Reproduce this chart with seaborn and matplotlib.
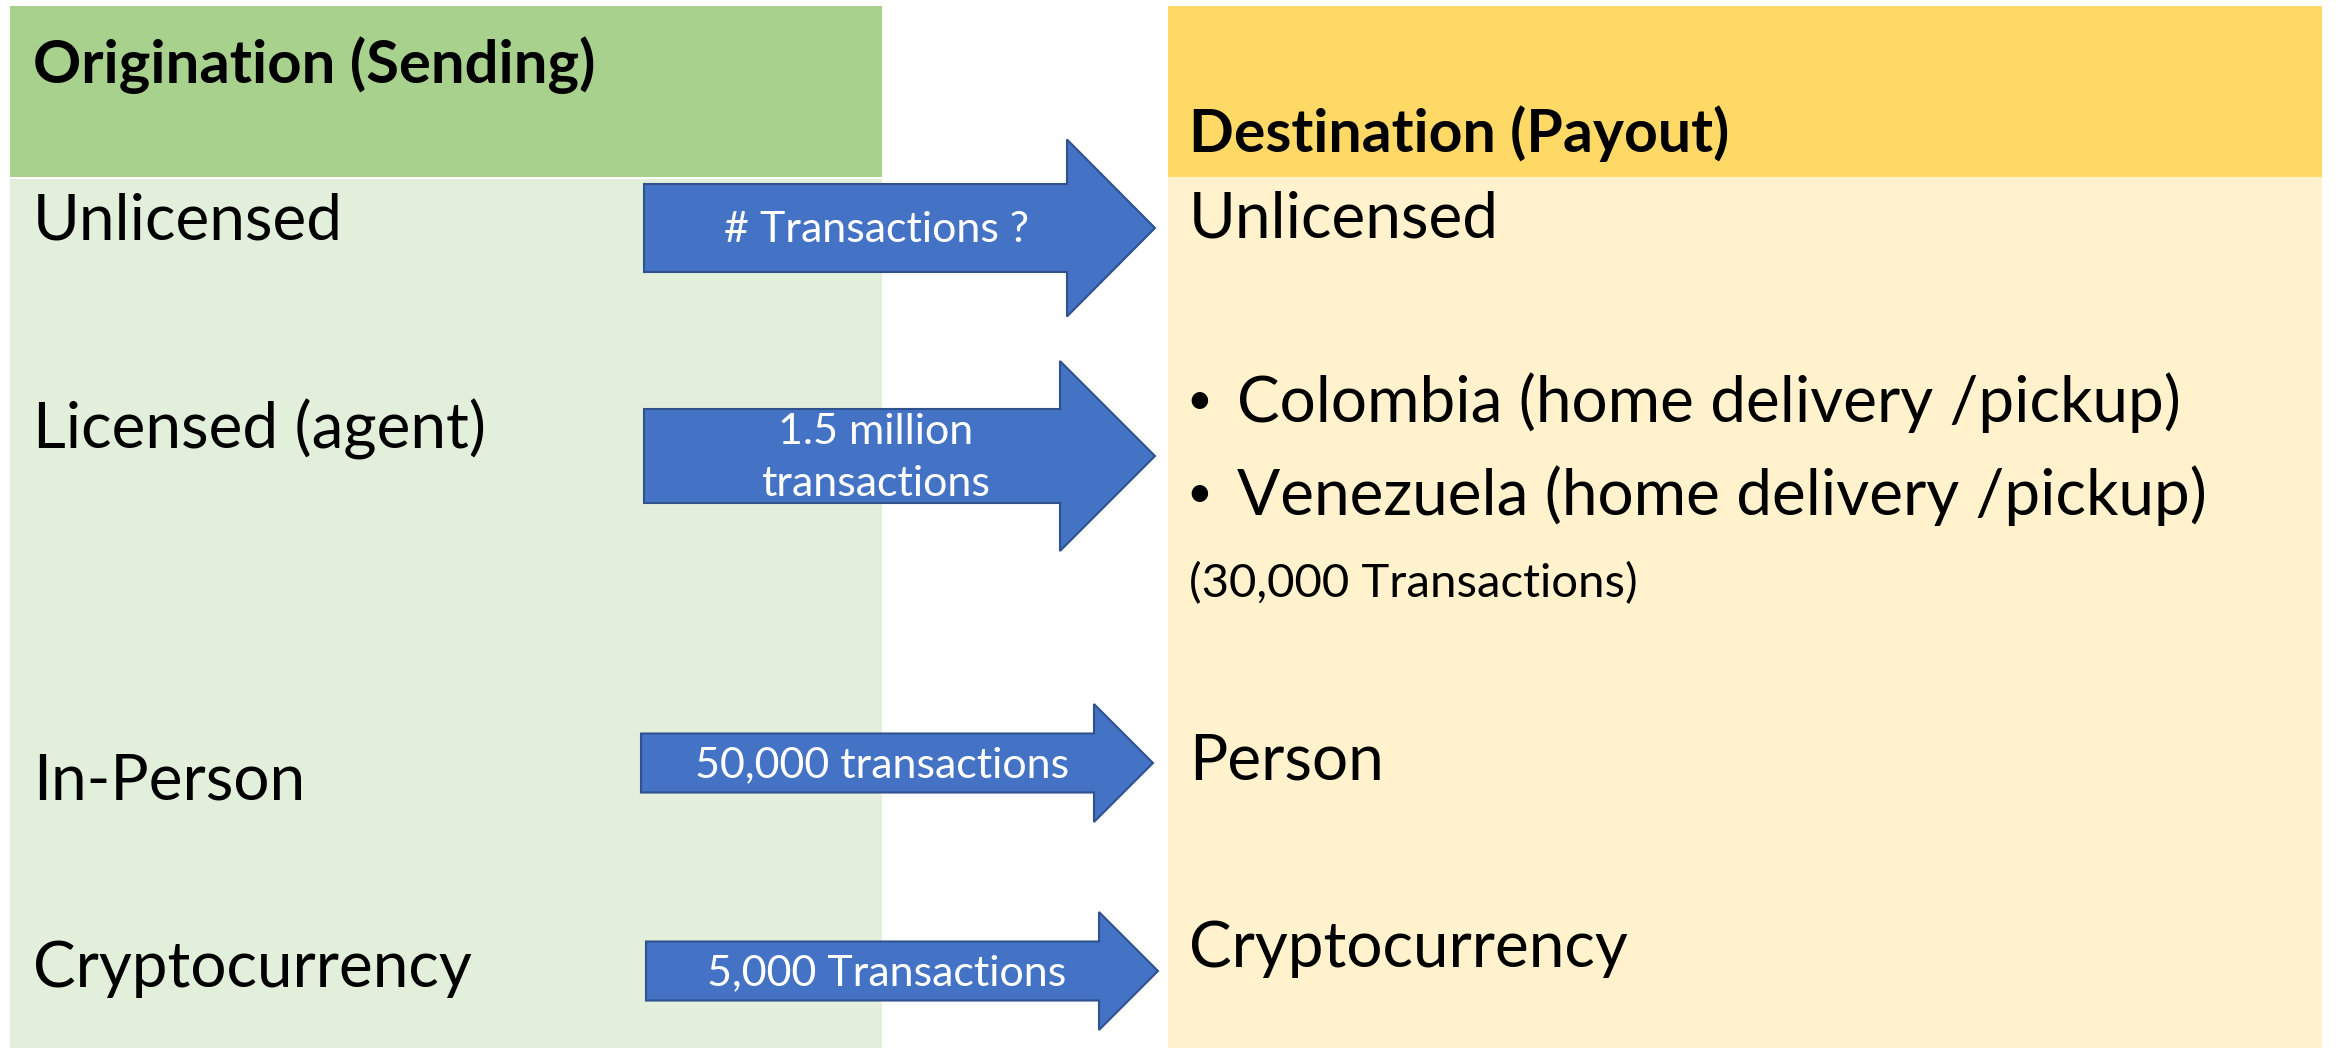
import numpy as np
import pandas as pd
import matplotlib.pyplot as plt
import seaborn as sns
from matplotlib.patches import Rectangle, FancyArrow

# ---- data ----
origin_title = "Origination (Sending)"
dest_title = "Destination (Payout)"
origin_labels = ["Unlicensed", "Licensed (agent)", "In-Person", "Cryptocurrency"]
dest_labels = ["Unlicensed",
               "Colombia (home delivery /pickup)",
               "Venezuela (home delivery /pickup)",
               "(30,000 Transactions)",
               "Person",
               "Cryptocurrency"]
dest_bullet = [False, True, True, False, False, False]
flow_labels = ["# Transactions ?", "1.5 million\ntransactions",
               "50,000 transactions", "5,000 Transactions"]

# ---- layout (pixel coords of a 2336x1048 canvas) ----
W, H = 2336, 1048
origin_base = [239, 448, 799, 987]
dest_base = [237, 422, 515, 597, 780, 967]
dest_size = [46, 46, 46, 34, 46, 46]
arrow_x = [644, 644, 641, 646]
arrow_len = [511, 511, 512, 512]
arrow_y = [228, 456, 763, 971]
arrow_w = [88, 94, 59, 59]
arrow_hw = [177, 190, 118, 118]
arrow_hl = [88, 95, 59, 59]
flow_text_x = [877, 876, 882, 887]
flow_text_y = [230, 458, 765, 973]

sns.set_style("white")
plt.rcParams['font.family'] = ['Lato', 'DejaVu Sans']

fig = plt.figure(figsize=(W / 100, H / 100), dpi=100)
ax = fig.add_axes([0, 0, 1, 1])
ax.set_xlim(0, W)
ax.set_ylim(H, 0)
ax.axis("off")

# column panels
ax.add_patch(Rectangle((10, 6), 872, 171, facecolor="#A9D18E", edgecolor="none"))
ax.add_patch(Rectangle((10, 179), 872, H - 179, facecolor="#E2EFDA", edgecolor="none"))
ax.add_patch(Rectangle((1168, 6), 1154, 171, facecolor="#FFD966", edgecolor="none"))
ax.add_patch(Rectangle((1168, 177), 1154, H - 177, facecolor="#FFF2CC", edgecolor="none"))

ax.text(33, 83, origin_title, fontsize=43, fontweight="bold", color="black",
        ha="left", va="baseline")
ax.text(1189, 152, dest_title, fontsize=42.5, fontweight="bold", color="black",
        ha="left", va="baseline")

for lab, yb in zip(origin_labels, origin_base):
    ax.text(33, yb, lab, fontsize=46, color="black", ha="left", va="baseline")

for lab, yb, fs, bul in zip(dest_labels, dest_base, dest_size, dest_bullet):
    if bul:
        ax.text(1186, yb - 8, "\u2022", fontsize=32, color="black", ha="left", va="baseline")
        ax.text(1237, yb, lab, fontsize=fs, color="black", ha="left", va="baseline")
    else:
        ax.text(1189, yb, lab, fontsize=fs, color="black", ha="left", va="baseline")

# arrows
for x, dx, y, w, hw, hl, lab, tx, ty in zip(arrow_x, arrow_len, arrow_y, arrow_w,
                                             arrow_hw, arrow_hl, flow_labels,
                                             flow_text_x, flow_text_y):
    ax.add_patch(FancyArrow(x, y, dx, 0, width=w, head_width=hw, head_length=hl,
                            length_includes_head=True, facecolor="#4472C4",
                            edgecolor="#2F528F", linewidth=1.5))
    ax.text(tx, ty, lab, fontsize=31, color="white", ha="center", va="center",
            linespacing=1.45)

fig.savefig("out.png", dpi=100)
